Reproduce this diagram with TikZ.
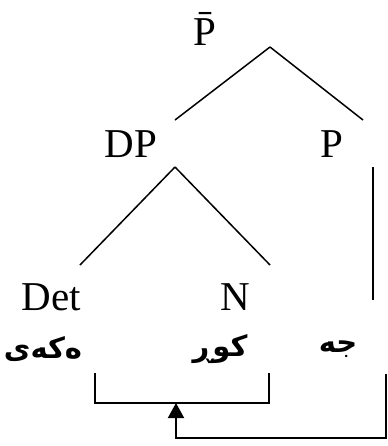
\documentclass[tikz,border=0pt]{standalone}
\usepackage{fontspec}
\setmainfont{Liberation Serif}
\newfontfamily\kurdfont[Script=Arabic]{DejaVu Sans}
\TeXXeTstate=1
\usetikzlibrary{arrows.meta}

\begin{document}
\begin{tikzpicture}[x=0.5pt, y=-0.5pt, line width=0.75pt,
  lab/.style={anchor=base, inner sep=0pt, font=\fontsize{20.5}{24}\selectfont},
  kurd/.style={inner sep=0pt, font=\fontsize{14.5}{17}\selectfont\kurdfont\bfseries}]
\useasboundingbox (0,0) rectangle (387,446);
% labels of the tree
\node[lab] (pbar) at (205,45) {\=P};
\node[lab] (dp) at (131,157) {DP};
\node[lab] (p) at (332,157) {P};
\node[lab] (det) at (51,310) {Det};
\node[lab] (n) at (235,310) {N};
% words
\node[kurd] (w1) at (43,349) {\beginR ەکەی\endR};
\node[kurd] (w2) at (220,349) {\beginR کوڕ\endR};
\node[kurd] (w3) at (338,349) {\beginR جه\endR};
% branch ends
\coordinate (pbar-foot) at (270,47);
\coordinate (dp-head) at (175,120);
\coordinate (p-head) at (363,120);
\coordinate (dp-foot) at (175,167);
\coordinate (det-head) at (80,265);
\coordinate (n-head) at (270,265);
\coordinate (p-foot) at (373,167);
\coordinate (w3-head) at (373,300);
\path (pbar-foot) edge (dp-head)
      (pbar-foot) edge (p-head)
      (dp-foot) edge (det-head)
      (dp-foot) edge (n-head)
      (p-foot) edge (w3-head);
% movement
\coordinate (br-l) at (95,373);
\coordinate (br-r) at (269,373);
\coordinate (br-m) at (176,403);
\coordinate (mv-start) at (386,374);
\draw (br-l) -- ++(0,30) -| (br-r);
\draw[line width=1pt, -{Triangle[width=8pt,length=7.5pt]}] (mv-start) -- ++(0,64) -| (br-m);
\end{tikzpicture}
\end{document}
